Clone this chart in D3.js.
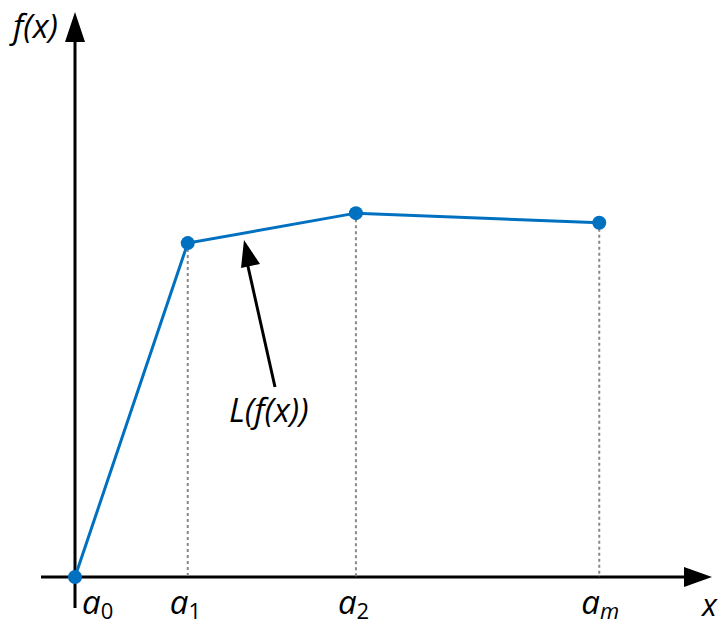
<!DOCTYPE html>
<html><head><meta charset="utf-8">
<script src="https://cdn.jsdelivr.net/npm/d3@7"></script>
<style>body{margin:0;background:#fff}svg{display:block}</style>
</head><body>
<script>
const labels = ["0", "1", "2", "m"];
const xValues = [0, 1.77, 4.41, 8.23];
const yValues = [0, 5.91, 6.44, 6.27];

const W = 722, H = 624;
const svg = d3.select("body").append("svg").attr("width", W).attr("height", H);
const x = d3.scaleLinear().domain([0, 10]).range([75, 712]);
const y = d3.scaleLinear().domain([0, 10]).range([577, 12]);
const font = "'Open Sans', sans-serif";

// axes
svg.append("line").attr("x1", 41).attr("x2", x(10) - 20).attr("y1", y(0)).attr("y2", y(0))
  .attr("stroke", "#000").attr("stroke-width", 3);
svg.append("path").attr("d", `M${x(10)},${y(0)} L${x(10)-28},${y(0)-10} L${x(10)-28},${y(0)+10} Z`).attr("fill", "#000");
svg.append("line").attr("x1", x(0)).attr("x2", x(0)).attr("y1", 608).attr("y2", y(10) + 20)
  .attr("stroke", "#000").attr("stroke-width", 3);
svg.append("path").attr("d", `M${x(0)},${y(10)} L${x(0)-10},${y(10)+30} L${x(0)+10},${y(10)+30} Z`).attr("fill", "#000");

const pts = xValues.map((v, i) => ({x: v, y: yValues[i], label: labels[i]}));

// dashed drop lines
svg.selectAll(".drop").data(pts.slice(1)).enter().append("line")
  .attr("x1", d => x(d.x)).attr("x2", d => x(d.x))
  .attr("y1", d => y(d.y)).attr("y2", y(0))
  .attr("stroke", "#888").attr("stroke-width", 2).attr("stroke-dasharray", "3,3");

// line
svg.append("path").datum(pts)
  .attr("d", d3.line().x(d => x(d.x)).y(d => y(d.y)))
  .attr("fill", "none").attr("stroke", "#0070c0").attr("stroke-width", 3);
svg.selectAll(".pt").data(pts).enter().append("circle")
  .attr("cx", d => x(d.x)).attr("cy", d => y(d.y)).attr("r", 7).attr("fill", "#0070c0");

// tick labels
const tl = svg.selectAll(".tl").data(pts).enter().append("text")
  .attr("x", d => x(d.x) - 18 + (d.label === "0" ? 25 : 0))
  .attr("y", 614).attr("font-family", font).attr("font-style", "italic").attr("font-size", 33);
tl.append("tspan").text("a");
tl.append("tspan").attr("font-style", d => d.label === "m" ? "italic" : "normal")
  .attr("font-size", 22).attr("dy", 5).text(d => d.label);

svg.append("text").attr("x", 702).attr("y", 616).attr("font-family", font).attr("font-style", "italic")
  .attr("font-size", 31).text("x");
svg.append("text").attr("x", 13).attr("y", 38).attr("font-family", font).attr("font-style", "italic")
  .attr("font-size", 33).text("f(x)");

// annotation
svg.append("line").attr("x1", 275).attr("y1", 387).attr("x2", 247).attr("y2", 262)
  .attr("stroke", "#000").attr("stroke-width", 3);
svg.append("path").attr("d", "M244,240 L241,268 L260,264 Z").attr("fill", "#000");
svg.append("text").attr("x", 229).attr("y", 422).attr("font-family", font).attr("font-style", "italic")
  .attr("font-size", 33).text("L(f(x))");
</script>
</body></html>
